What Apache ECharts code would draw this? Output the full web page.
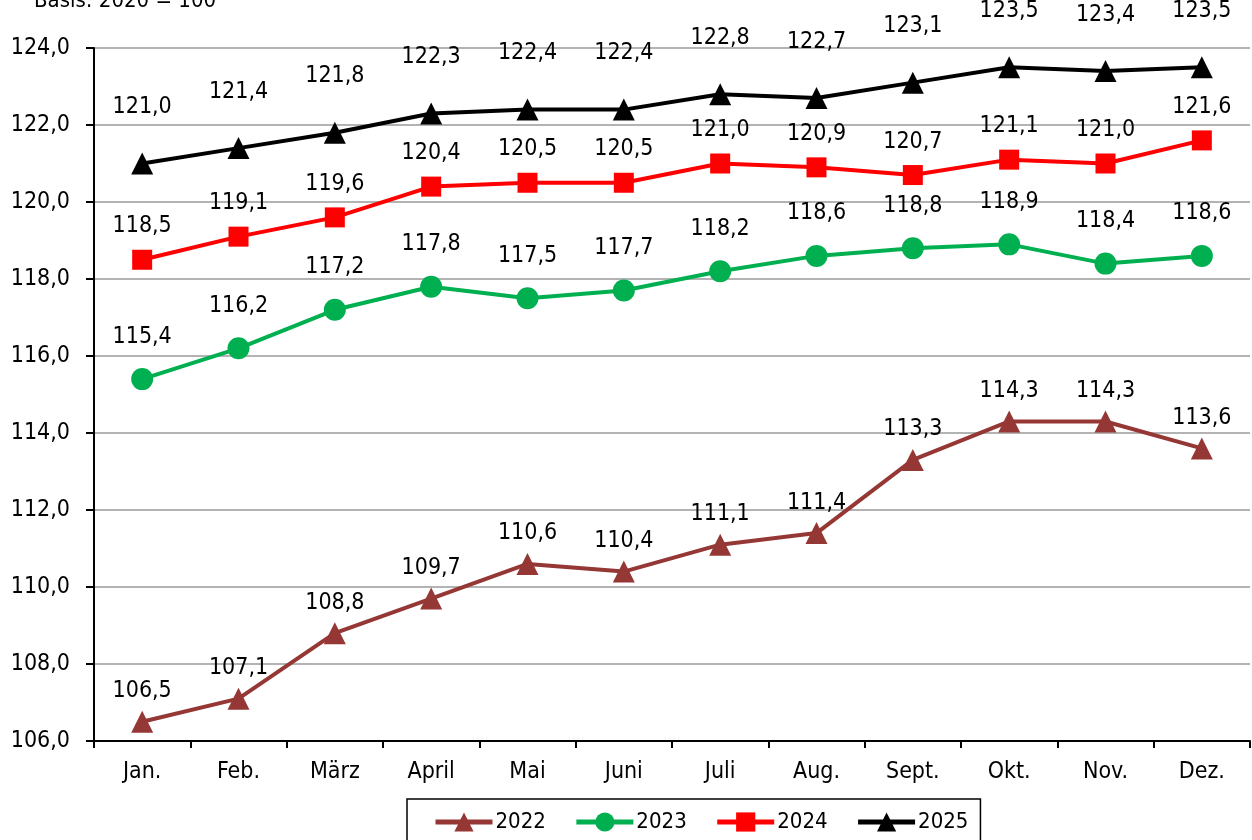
<!DOCTYPE html>
<html>
<head>
<meta charset="utf-8">
<script src="https://cdn.jsdelivr.net/npm/echarts@6/dist/echarts.min.js"></script>
<style>
  html, body { margin: 0; padding: 0; background: #fff; }
  #chart { width: 1252px; height: 840px; }
</style>
</head>
<body>
<div id="chart"></div>
<script>
// Monate
const months = ['Jan.', 'Feb.', 'März', 'April', 'Mai', 'Juni', 'Juli', 'Aug.', 'Sept.', 'Okt.', 'Nov.', 'Dez.'];

// Index, Basis 2020 = 100
const werte2022 = [106.5, 107.1, 108.8, 109.7, 110.6, 110.4, 111.1, 111.4, 113.3, 114.3, 114.3, 113.6];
const werte2023 = [115.4, 116.2, 117.2, 117.8, 117.5, 117.7, 118.2, 118.6, 118.8, 118.9, 118.4, 118.6];
const werte2024 = [118.5, 119.1, 119.6, 120.4, 120.5, 120.5, 121.0, 120.9, 120.7, 121.1, 121.0, 121.6];
const werte2025 = [121.0, 121.4, 121.8, 122.3, 122.4, 122.4, 122.8, 122.7, 123.1, 123.5, 123.4, 123.5];

const yMin = 106, yMax = 124, yStep = 2;

const FONT = '"DejaVu Sans Condensed", "DejaVu Sans", sans-serif';
const FS = 23;
const komma = v => v.toFixed(1).replace('.', ',');

function reihe(name, data, color, symbol, size, dist) {
  return {
    name: name,
    type: 'line',
    data: data,
    symbol: symbol,
    symbolSize: size,
    lineStyle: { color: color, width: 4 },
    itemStyle: { color: color },
    label: {
      show: true,
      position: 'top',
      distance: dist,
      color: '#000',
      fontFamily: FONT,
      fontSize: FS,
      formatter: p => komma(p.value)
    },
    z: 3
  };
}

const chart = echarts.init(document.getElementById('chart'));
chart.setOption({
  animation: false,
  backgroundColor: '#fff',
  textStyle: { fontFamily: FONT },
  graphic: [{
    type: 'text',
    left: 34,
    top: -10,
    style: { text: 'Basis: 2020 = 100', font: '22px ' + FONT, fill: '#000' }
  }],
  grid: { left: 94, right: 2, top: 48, bottom: 99 },
  legend: {
    left: 407,
    top: 799,
    padding: [12, 12, 20, 26],
    borderColor: '#000',
    borderWidth: 1.5,
    itemWidth: 57,
    itemHeight: 24,
    itemGap: 28,
    lineStyle: { width: 5 },
    textStyle: { fontFamily: FONT, fontSize: 22, color: '#000', padding: [0, 0, 0, -2] },
    data: ['2022', '2023', '2024', '2025']
  },
  xAxis: {
    type: 'category',
    data: months,
    boundaryGap: true,
    axisLine: { lineStyle: { color: '#000', width: 2 } },
    axisTick: { show: true, interval: 0, length: 7, lineStyle: { color: '#000', width: 2 } },
    axisLabel: { color: '#000', fontSize: FS, fontFamily: FONT, margin: 20 }
  },
  yAxis: {
    type: 'value',
    min: yMin,
    max: yMax,
    interval: yStep,
    axisLine: { show: true, lineStyle: { color: '#000', width: 2 } },
    axisTick: { show: true, length: 8, lineStyle: { color: '#000', width: 2 } },
    axisLabel: { color: '#000', fontSize: FS, fontFamily: FONT, margin: 24, formatter: v => komma(v) },
    splitLine: { lineStyle: { color: '#9a9a9a', width: 1.5 } }
  },
  series: [
    reihe('2022', werte2022, '#953735', 'triangle', 22, 8),
    reihe('2023', werte2023, '#00b050', 'circle', 22, 20),
    reihe('2024', werte2024, '#ff0000', 'rect', 20, 12),
    reihe('2025', werte2025, '#000000', 'triangle', 22, 34)
  ]
});
</script>
</body>
</html>
